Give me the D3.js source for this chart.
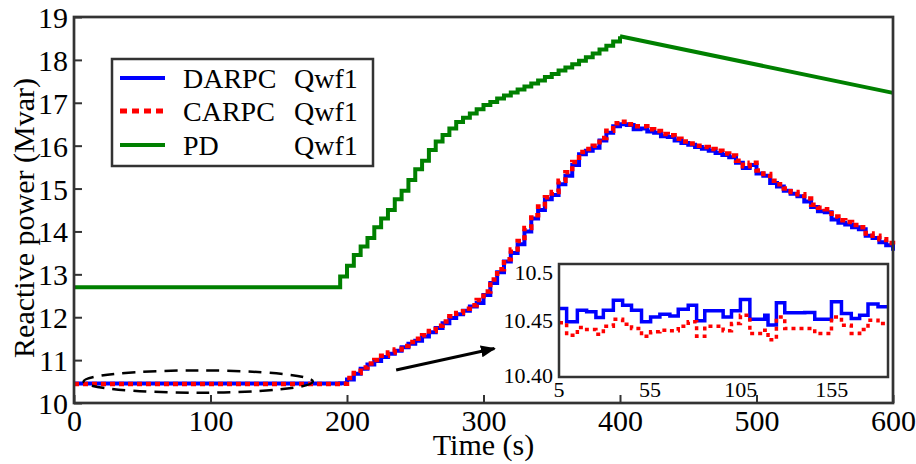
<!DOCTYPE html>
<html><head><meta charset="utf-8">
<script src="https://cdn.jsdelivr.net/npm/d3@7"></script>
<style>
body{margin:0;background:#fff;}
svg{display:block;font-family:"Liberation Serif","Times New Roman",serif;}
svg text{font-family:"Liberation Serif","Times New Roman",serif;}
</style></head>
<body><svg id="c" width="916" height="464"></svg>
<script>
// ---------- data ----------
const xTicks = [0,100,200,300,400,500,600];
const yTicks = [10,11,12,13,14,15,16,17,18,19];
const legendNames = ["DARPC","CARPC","PD"];
const legendSuffix = "Qwf1";

// main-plot time grid (s)
const mainT = [0,195,200,205,210,215,220,225,230,235,240,245,250,255,260,265,270,275,280,285,290,295,300,
  305,310,315,320,325,330,335,340,345,350,355,360,365,370,375,380,385,390,395,400,
  405,410,415,420,425,430,435,440,445,450,455,460,465,470,475,480,485,490,495,500,
  505,510,515,520,525,530,535,540,545,550,555,560,565,570,575,580,585,590,595,600];
// DARPC Qwf1 (Mvar)
const darpc = [10.455,10.46,10.55,10.68,10.8,10.9,10.98,11.07,11.15,11.22,11.3,11.38,11.45,11.55,11.65,11.75,11.86,11.98,12.07,12.15,12.25,12.33,12.52,
  12.8,13.05,13.3,13.5,13.7,14.0,14.3,14.5,14.75,14.85,15.1,15.3,15.55,15.8,15.88,15.95,16.12,16.3,16.45,16.5,
  16.48,16.38,16.4,16.33,16.3,16.22,16.2,16.12,16.06,16.02,15.97,15.93,15.88,15.83,15.78,15.73,15.6,15.48,15.55,15.35,
  15.3,15.13,15.05,14.95,14.88,14.82,14.7,14.57,14.47,14.45,14.28,14.2,14.16,14.1,14.05,13.9,13.85,13.75,13.68,13.55];
// CARPC Qwf1 (Mvar)
const carpc = [10.445,10.45,10.58,10.7,10.83,10.92,11.0,11.1,11.18,11.25,11.33,11.42,11.5,11.58,11.68,11.8,11.9,12.02,12.1,12.2,12.28,12.4,12.6,
  12.88,13.12,13.35,13.58,13.78,14.08,14.38,14.58,14.8,14.92,15.18,15.38,15.62,15.85,15.92,16.0,16.18,16.35,16.52,16.56,
  16.5,16.45,16.45,16.38,16.34,16.27,16.24,16.16,16.1,16.05,16.0,15.97,15.92,15.88,15.82,15.77,15.65,15.52,15.6,15.42,
  15.34,15.18,15.1,15.0,14.92,14.87,14.77,14.62,14.55,14.52,14.35,14.26,14.22,14.15,14.1,13.95,13.9,13.82,13.73,13.63];
// PD Qwf1 (Mvar): stepped rise, then linear decline
const pdStepT = [0,195,200,205,210,215,220,225,230,235,240,245,250,255,260,265,270,275,280,285,290,295,300,
  305,310,315,320,325,330,335,340,345,350,355,360,365,370,375,380,385,390,395,400];
const pdStepV = [12.7,12.95,13.2,13.45,13.65,13.85,14.1,14.3,14.5,14.75,14.95,15.2,15.45,15.65,15.9,16.1,16.25,16.4,16.55,16.65,16.75,16.85,16.95,
  17.02,17.1,17.17,17.24,17.31,17.38,17.45,17.52,17.6,17.67,17.75,17.82,17.9,17.98,18.06,18.15,18.24,18.33,18.43,18.55];
const pdLineT = [400,600];
const pdLineV = [18.55,17.23];

// inset (zoom of 5..186 s)
const insetXTicks = [5,55,105,155];
const insetYTicks = [10.40,10.45,10.5];
const insetYLabels = ["10.40","10.45","10.5"];
const insetT = [5,9.2,15.1,20.2,25.3,29.4,34.9,40,44.9,50.4,55.4,60.5,66,70.6,76.1,80.7,85.2,95.3,99.9,104.8,110,118.2,120,124.6,129.2,140.2,145.7,154.9,160.4,165.8,170.4,175,180.5,186];
const insetDarpc = [10.4607,10.4488,10.459,10.4577,10.4527,10.459,10.468,10.4636,10.459,10.4488,10.453,10.4556,10.454,10.46,10.4636,10.4497,10.4586,10.453,10.4586,10.4686,10.451,10.4547,10.446,10.4657,10.4568,10.457,10.451,10.4666,10.4562,10.4518,10.4547,10.4645,10.4621,10.4621];
const insetCarpc = [10.448,10.437,10.4438,10.442,10.4379,10.445,10.451,10.4467,10.443,10.436,10.44,10.4414,10.441,10.445,10.4488,10.436,10.445,10.441,10.4473,10.4547,10.4385,10.4414,10.433,10.453,10.443,10.443,10.4385,10.453,10.4458,10.4385,10.442,10.4503,10.4473,10.4473];

// annotation (data units)
const ellipseC = [91, 10.5], ellipseR = [84, 0.26];
const arrowFrom = [236, 10.77], arrowTo = [308, 11.27];

// ---------- drawing ----------
const FONT = "Liberation Serif, Times New Roman, serif";
const svg = d3.select("#c");
const L=74, R=893, T=17, B=403;
const x = d3.scaleLinear().domain([0,600]).range([L,R]);
const y = d3.scaleLinear().domain([10,19]).range([B,T]);
const BLUE="#0000ff", RED="#ff0000", GREEN="#008000", AX="#333";
const fs = 30;

// ticks (inward)
const gx = svg.append("g").attr("transform",`translate(0,${B})`)
  .call(d3.axisBottom(x).tickValues(xTicks).tickSize(-8).tickPadding(7).tickFormat(d3.format("d")));
const gy = svg.append("g").attr("transform",`translate(${L},0)`)
  .call(d3.axisLeft(y).tickValues(yTicks).tickSize(-8).tickPadding(6).tickFormat(d3.format("d")));
[gx,gy].forEach(g=>{
  g.attr("font-family",FONT);
  g.select(".domain").remove();
  g.selectAll("line").attr("stroke",AX).attr("stroke-width",2);
  g.selectAll("text").attr("font-size",fs).attr("fill","#000").attr("font-family",FONT);
});
gx.selectAll("text").attr("dy","0.71em");
gy.selectAll("text").attr("dy","0.35em");

// lines
const stepLine = d3.line().x(d=>x(d[0])).y(d=>y(d[1])).curve(d3.curveStepAfter);
const linLine = d3.line().x(d=>x(d[0])).y(d=>y(d[1]));
const zip=(a,b)=>a.map((t,i)=>[t,b[i]]);

svg.append("path").attr("d",stepLine(zip(pdStepT,pdStepV))).attr("fill","none").attr("stroke",GREEN).attr("stroke-width",4);
svg.append("path").attr("d",linLine(zip(pdLineT,pdLineV))).attr("fill","none").attr("stroke",GREEN).attr("stroke-width",4);
svg.append("path").attr("d",stepLine(zip(mainT,darpc))).attr("fill","none").attr("stroke",BLUE).attr("stroke-width",4);
svg.append("path").attr("d",stepLine(zip(mainT,carpc))).attr("fill","none").attr("stroke",RED).attr("stroke-width",4.5).attr("stroke-dasharray","5,4");

// frame
svg.append("rect").attr("x",L).attr("y",T).attr("width",R-L).attr("height",B-T)
  .attr("fill","none").attr("stroke",AX).attr("stroke-width",2.7);

// axis titles
svg.append("text").attr("x",(L+R)/2).attr("y",455).attr("text-anchor","middle").attr("font-size",fs).attr("font-family",FONT).text("Time (s)");
svg.append("text").attr("transform",`translate(34,218) rotate(-90)`).attr("text-anchor","middle").attr("font-size",fs).attr("font-family",FONT).text("Reactive power (Mvar)");

// ellipse + arrow
svg.append("ellipse").attr("cx",x(ellipseC[0])).attr("cy",y(ellipseC[1]))
  .attr("rx",x(ellipseR[0])-x(0)).attr("ry",y(10)-y(10+ellipseR[1]))
  .attr("fill","none").attr("stroke","#000").attr("stroke-width",2.5).attr("stroke-dasharray","13,8");
svg.append("defs").append("marker").attr("id","ah").attr("viewBox","0 0 10 10").attr("refX",9).attr("refY",5)
  .attr("markerWidth",5).attr("markerHeight",5).attr("orient","auto")
  .append("path").attr("d","M0,1 L10,5 L0,9 Z").attr("fill","#000");
svg.append("line").attr("x1",x(arrowFrom[0])).attr("y1",y(arrowFrom[1])).attr("x2",x(arrowTo[0])).attr("y2",y(arrowTo[1]))
  .attr("stroke","#000").attr("stroke-width",3).attr("marker-end","url(#ah)");

// legend
const lg = svg.append("g").attr("font-family",FONT);
lg.append("rect").attr("x",112).attr("y",59).attr("width",261).attr("height",107).attr("fill","#fff").attr("stroke",AX).attr("stroke-width",2.5);
const lgColors=[BLUE,RED,GREEN], lgY=[78,111,145];
legendNames.forEach((n,i)=>{
  const l = lg.append("line").attr("x1",120).attr("x2",165).attr("y1",lgY[i]).attr("y2",lgY[i]).attr("stroke",lgColors[i]).attr("stroke-width",4);
  if(i===1) l.attr("stroke-width",5).attr("stroke-dasharray","7,5");
  lg.append("text").attr("x",183).attr("y",lgY[i]).attr("dy","0.35em").attr("font-size",28).text(n);
  lg.append("text").attr("x",294).attr("y",lgY[i]).attr("dy","0.35em").attr("font-size",28).text(legendSuffix);
});

// inset
const xi = d3.scaleLinear().domain([5,186]).range([559,888]);
const yi = d3.scaleLinear().domain([10.4,10.5]).range([377,264]);
const ig = svg.append("g").attr("font-family",FONT);
ig.append("rect").attr("x",559).attr("y",264).attr("width",329).attr("height",113).attr("fill","#fff");
const stepI = d3.line().x(d=>xi(d[0])).y(d=>yi(d[1])).curve(d3.curveStepAfter);
ig.append("path").attr("d",stepI(zip(insetT,insetDarpc))).attr("fill","none").attr("stroke",BLUE).attr("stroke-width",3.5);
ig.append("path").attr("d",stepI(zip(insetT,insetCarpc))).attr("fill","none").attr("stroke",RED).attr("stroke-width",3.5).attr("stroke-dasharray","4,4");
ig.append("rect").attr("x",559).attr("y",264).attr("width",329).attr("height",113).attr("fill","none").attr("stroke",AX).attr("stroke-width",2.5);
insetXTicks.forEach(t=>{
  ig.append("text").attr("x",xi(t)).attr("y",397).attr("text-anchor","middle").attr("font-size",22).text(t);
});
insetYTicks.forEach((v,i)=>{
  const yy = Math.min(Math.max(yi(v),272),375);
  ig.append("text").attr("x",553).attr("y",yy).attr("dy","0.35em").attr("text-anchor","end").attr("font-size",22).text(insetYLabels[i]);
});
</script></body></html>
